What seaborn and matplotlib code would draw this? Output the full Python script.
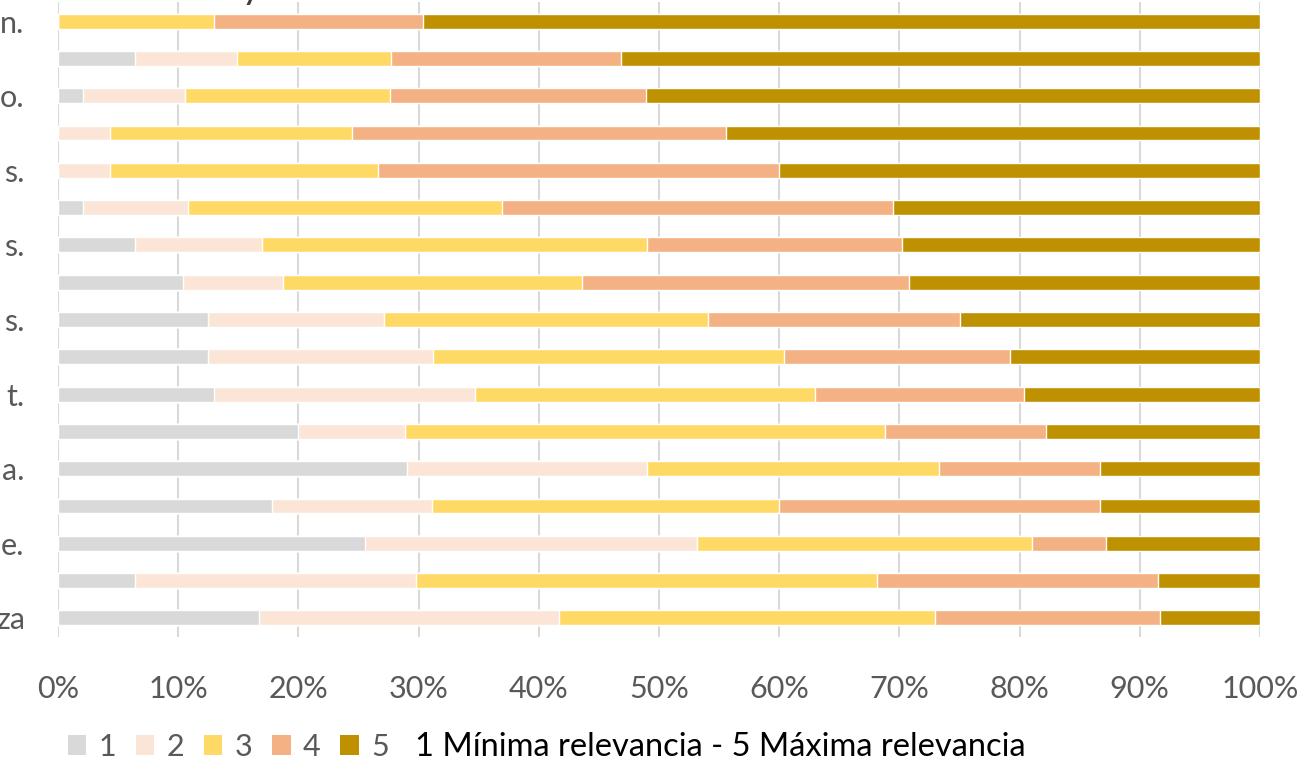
import numpy as np
import pandas as pd
import seaborn as sns
import matplotlib.pyplot as plt
from matplotlib.patches import Patch

# porcentajes por nivel de relevancia (filas de arriba a abajo)
nivel_1 = [0, 6.4, 2.1, 0, 0, 2.1, 6.4, 10.4, 12.5, 12.5, 13.0, 20.0, 29.0, 17.8, 25.5, 6.4, 16.7]
nivel_2 = [0, 8.5, 8.5, 4.3, 4.3, 8.7, 10.6, 8.3, 14.6, 18.7, 21.7, 8.9, 20.0, 13.3, 27.7, 23.4, 25.0]
nivel_3 = [13.0, 12.8, 17.0, 20.2, 22.3, 26.1, 32.0, 24.9, 27.0, 29.2, 28.3, 39.9, 24.3, 28.9, 27.8, 38.3, 31.3]
nivel_4 = [17.4, 19.1, 21.3, 31.1, 33.4, 32.6, 21.2, 27.2, 20.9, 18.8, 17.4, 13.4, 13.4, 26.7, 6.2, 23.4, 18.7]
nivel_5 = [69.6, 53.2, 51.1, 44.4, 40.0, 30.5, 29.8, 29.2, 25.0, 20.8, 19.6, 17.8, 13.3, 13.3, 12.8, 8.5, 8.3]

# etiquetas del eje (solo se ve el final de cada una)
etiquetas = ['n.', '', 'o.', '', 's.', '', 's.', '', 's.', '', 't.', '', 'a.', '', 'e.', '', 'za']
niveles = ['1', '2', '3', '4', '5']
colores = ['#D9D9D9', '#FBE5D6', '#FFD966', '#F4B183', '#BF9000']
nota = '1 Mínima relevancia - 5 Máxima relevancia'
titulo = 'mayor a menor relevancia'

df = pd.DataFrame({'1': nivel_1, '2': nivel_2, '3': nivel_3, '4': nivel_4, '5': nivel_5})
df['fila'] = np.arange(len(df))
acum = df[niveles].cumsum(axis=1)
acum['fila'] = df['fila']

sns.set_theme(style='white')
plt.rcParams['font.family'] = ['Lato', 'DejaVu Sans']

fig = plt.figure(figsize=(12.98, 7.59), dpi=100)
ax = fig.add_axes([58 / 1298, 1 - 636.6 / 759, (1260 - 58) / 1298, (636.6 - 2.4) / 759])

# barras apiladas: se dibuja el acumulado de mayor a menor encima
for niv, col in zip(niveles[::-1], colores[::-1]):
    sns.barplot(data=acum, x=niv, y='fila', orient='h', color=col, width=0.4,
                saturation=1, ax=ax, zorder=2)

ax.set_xlim(0, 100)
ax.set_ylim(16.5, -0.5)
ax.set_xticks(np.arange(0, 101, 10))
ax.set_xticklabels([f'{v}%' for v in range(0, 101, 10)])
ax.set_yticks(np.arange(len(etiquetas)))
ax.set_yticklabels(etiquetas)
ax.set_xlabel('')
ax.set_ylabel('')
ax.grid(axis='x', color='#D9D9D9', lw=1.5, zorder=0)
ax.grid(axis='y', visible=False)
ax.set_axisbelow(True)
for s in ax.spines.values():
    s.set_visible(False)
ax.tick_params(axis='x', length=0, pad=28, labelsize=22, labelcolor='#595959')
ax.tick_params(axis='y', length=0, pad=24, labelsize=22, labelcolor='#595959')

# titulo cortado en la parte superior
fig.text(204 / 1298, 1 - 0.3 / 759, titulo, ha='left', va='baseline',
         fontsize=21, fontweight='bold', color='#404040')

handles = [Patch(facecolor=c, edgecolor='none') for c in colores]
fig.legend(handles, niveles, loc='center left', bbox_to_anchor=(68 / 1298, 1 - 747 / 759),
           ncol=5, frameon=False, fontsize=22, labelcolor='#595959',
           handlelength=0.6, handleheight=0.62, handletextpad=0.4, columnspacing=0.65,
           borderaxespad=0, borderpad=0)
fig.text(415 / 1298, 1 - 756 / 759, nota, ha='left', va='baseline', fontsize=23.5, color='black')

fig.savefig('out.png', dpi=100)
